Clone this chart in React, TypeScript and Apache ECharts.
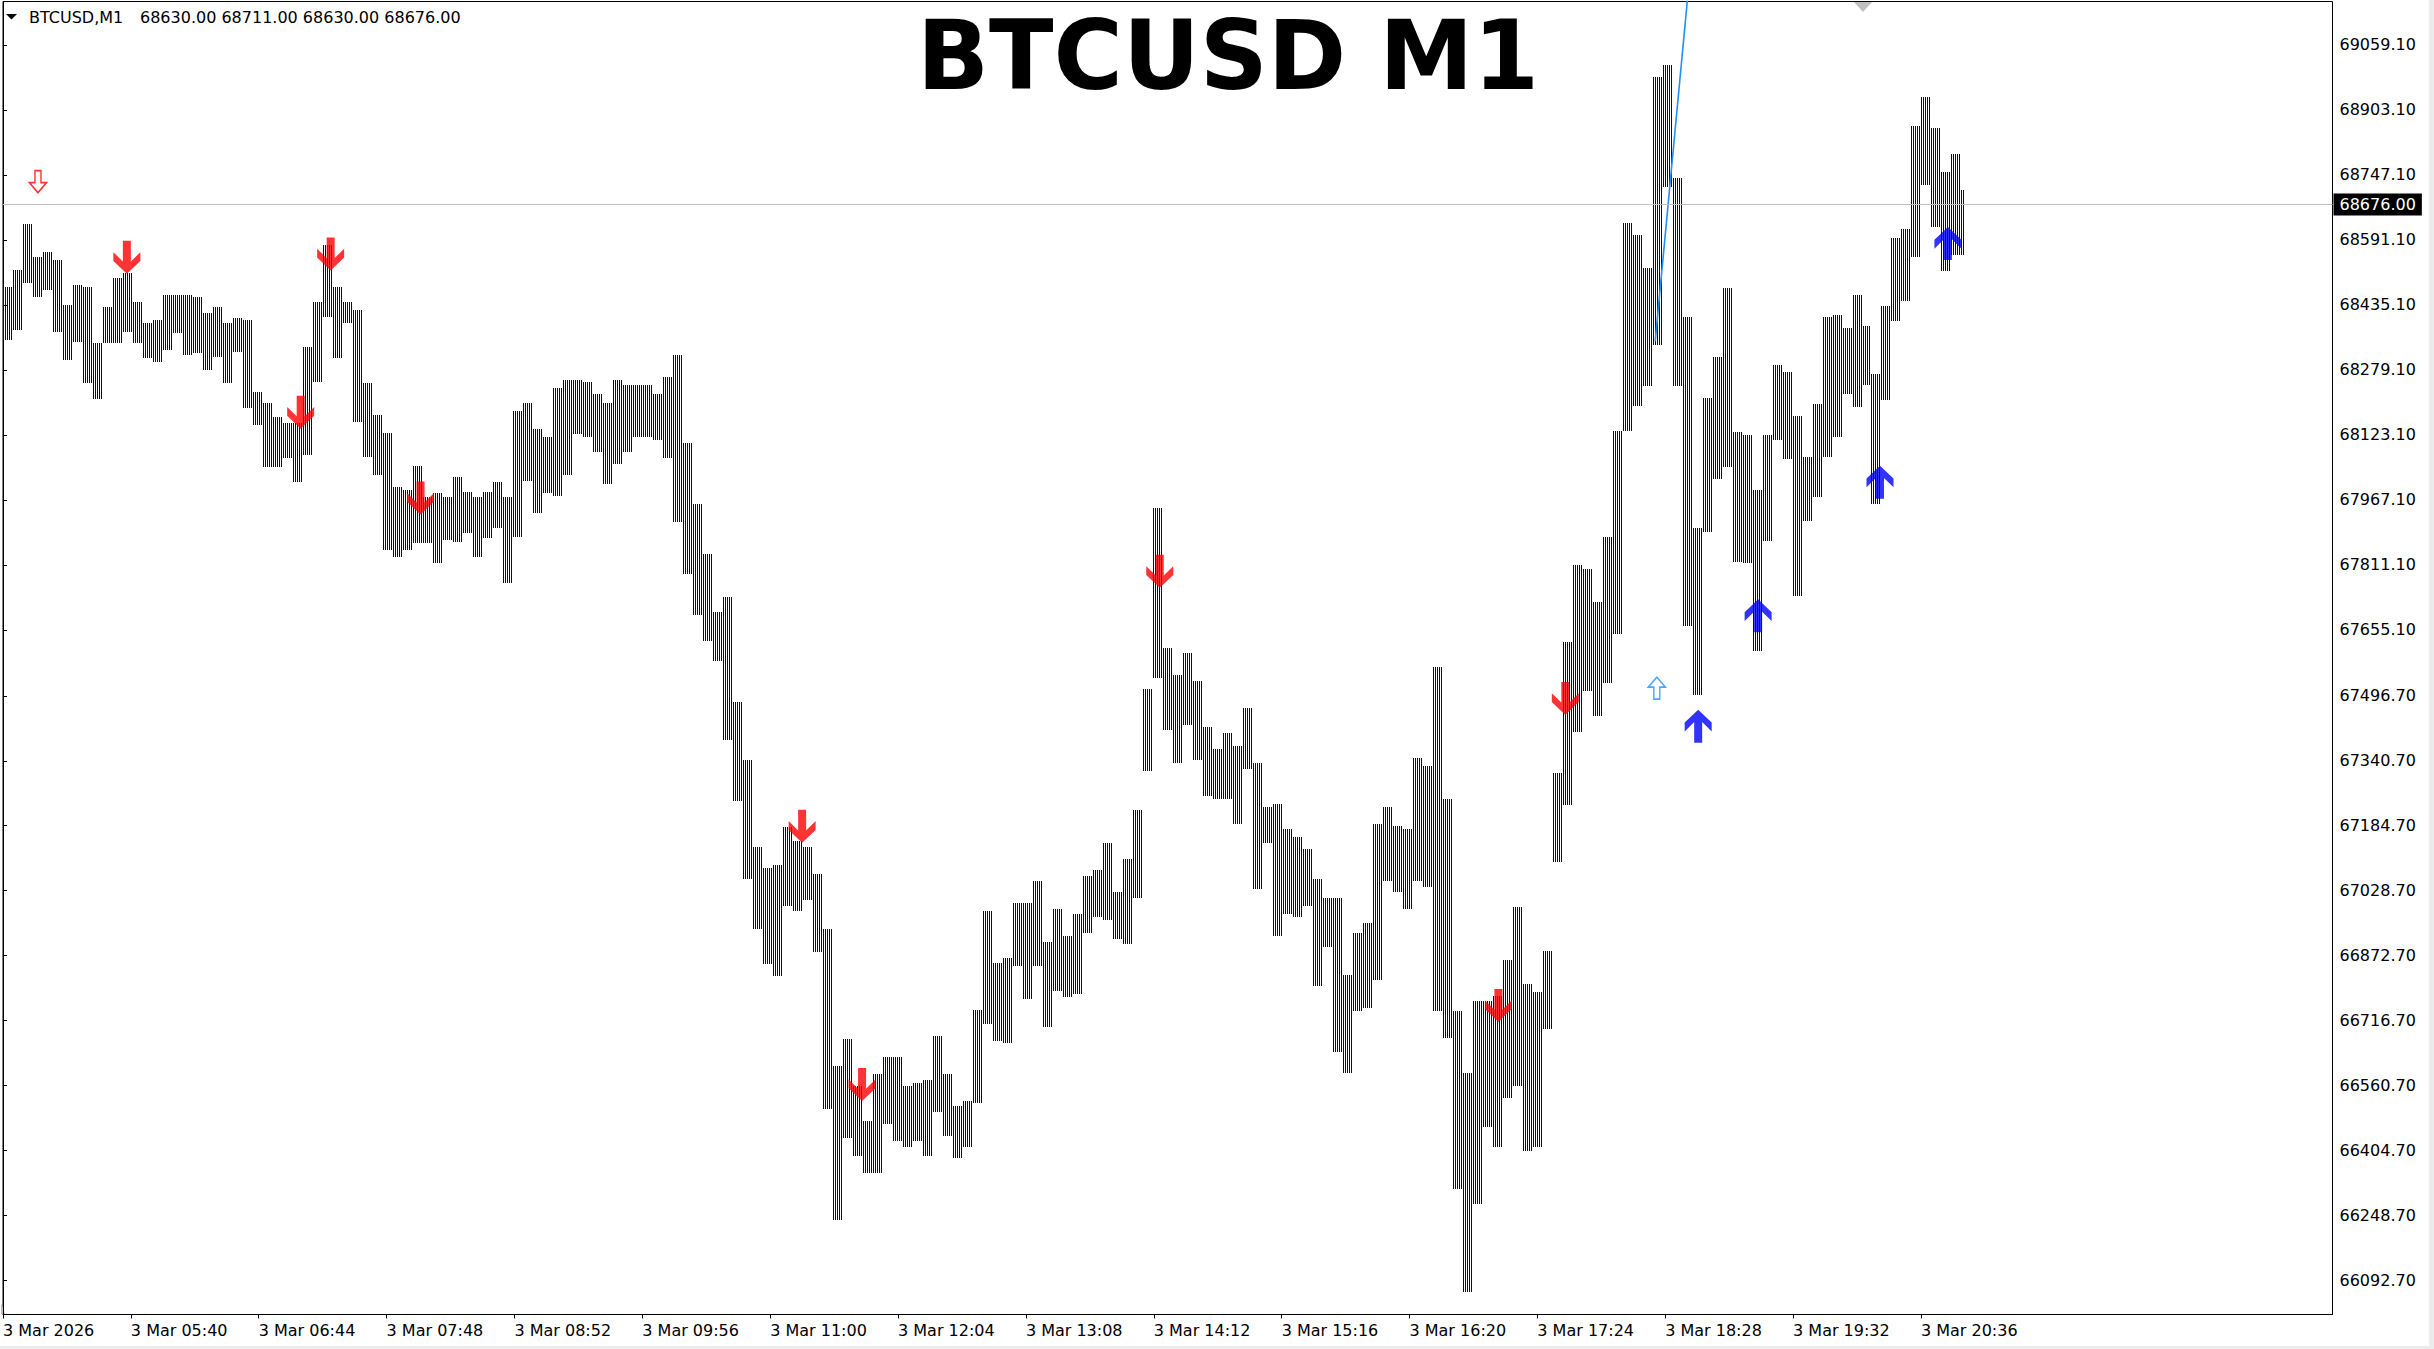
import React, { useEffect, useRef } from "react";
import * as echarts from "echarts";

// ---------- data ----------
const symbolName = "BTCUSD,M1";
const lastBarOHLC = ["68630.00", "68711.00", "68630.00", "68676.00"];
const bidPrice = 68676.0;

// x tick labels (every 64 one-minute bars, starting 04:36)
const timeLabels = [
  "3 Mar 2026", "3 Mar 05:40", "3 Mar 06:44", "3 Mar 07:48", "3 Mar 08:52", "3 Mar 09:56",
  "3 Mar 11:00", "3 Mar 12:04", "3 Mar 13:08", "3 Mar 14:12", "3 Mar 15:16", "3 Mar 16:20",
  "3 Mar 17:24", "3 Mar 18:28", "3 Mar 19:32", "3 Mar 20:36",
];
const labelMinutes = [0, 64, 128, 192, 256, 320, 384, 448, 512, 576, 640, 704, 768, 832, 896, 960];

// y tick labels
const priceTicks = [
  69059.1, 68903.1, 68747.1, 68591.1, 68435.1, 68279.1, 68123.1, 67967.1, 67811.1, 67655.1,
  67496.7, 67340.7, 67184.7, 67028.7, 66872.7, 66716.7, 66560.7, 66404.7, 66248.7, 66092.7,
];

// 5-minute groups of M1 bars (high / low)
const groupMinutes = 5;
const barCount = 982;
const highs = [
  68479, 68519, 68629, 68551, 68563, 68543, 68435, 68483, 68479, 68343,
  68431, 68499, 68511, 68443, 68391, 68399, 68459, 68459, 68459, 68455,
  68415, 68431, 68391, 68403, 68399, 68227, 68199, 68167, 68151, 68151,
  68335, 68443, 68579, 68479, 68443, 68423, 68247, 68171, 68127, 67999,
  67991, 68048, 67975, 67983, 67975, 68023, 67987, 67975, 67987, 68009,
  67973, 68180, 68200, 68138, 68117, 68235, 68256, 68256, 68249, 68221,
  68200, 68256, 68242, 68242, 68242, 68221, 68263, 68316, 68103, 67956,
  67837, 67698, 67733, 67481, 67342, 67133, 67084, 67091, 67181, 67149,
  67133, 67070, 66937, 66609, 66672, 66560, 66476, 66588, 66630, 66630,
  66560, 66567, 66574, 66679, 66588, 66511, 66525, 66742, 66979, 66854,
  66867, 66999, 66999, 67051, 66906, 66985, 66919, 66972, 67065, 67078,
  67144, 67025, 67104, 67223, 67513, 67948, 67612, 67546, 67599, 67533,
  67421, 67368, 67408, 67375, 67467, 67335, 67229, 67236, 67177, 67157,
  67130, 67058, 67012, 67012, 66827, 66926, 66952, 67190, 67229, 67183,
  67177, 67348, 67328, 67566, 67249, 66741, 66590, 66765, 66765, 66775,
  66863, 66990, 66804, 66785, 66883, 67312, 67625, 67811, 67801, 67723,
  67879, 68133, 68631, 68602, 68524, 68983, 69012, 68739, 68407, 67899,
  68211, 68309, 68475, 68130, 68122, 67990, 68122, 68291, 68275, 68169,
  68069, 68196, 68407, 68412, 68380, 68459, 68385, 68269, 68433, 68596,
  68617, 68865, 68934, 68860, 68755, 68797, 68711,
];
const lows = [
  68351, 68375, 68487, 68455, 68471, 68371, 68303, 68347, 68247, 68209,
  68343, 68343, 68371, 68343, 68307, 68299, 68327, 68367, 68315, 68319,
  68279, 68311, 68247, 68323, 68187, 68147, 68047, 68047, 68067, 68009,
  68075, 68251, 68407, 68307, 68391, 68155, 68071, 68027, 67847, 67831,
  67847, 67863, 67863, 67815, 67871, 67867, 67887, 67831, 67875, 67900,
  67768, 67879, 68012, 67935, 67984, 67977, 68026, 68124, 68117, 68082,
  68005, 68054, 68082, 68117, 68117, 68110, 68068, 67914, 67789, 67691,
  67628, 67579, 67391, 67244, 67056, 66937, 66853, 66825, 66993, 66979,
  67007, 66881, 66504, 66239, 66434, 66393, 66351, 66351, 66469, 66428,
  66414, 66428, 66393, 66497, 66441, 66386, 66414, 66518, 66708, 66669,
  66662, 66847, 66768, 66847, 66702, 66788, 66774, 66781, 66926, 66966,
  66959, 66913, 66900, 67012, 67315, 67539, 67414, 67335, 67427, 67342,
  67256, 67249, 67249, 67190, 67322, 67032, 67144, 66919, 66972, 66966,
  66992, 66801, 66893, 66642, 66590, 66741, 66748, 66814, 67051, 67025,
  66985, 67051, 67038, 66741, 66675, 66313, 66065, 66277, 66462, 66414,
  66531, 66560, 66404, 66414, 66697, 67098, 67234, 67410, 67508, 67449,
  67527, 67645, 68133, 68192, 68241, 68338, 68719, 68241, 67664, 67498,
  67889, 68016, 68045, 67818, 67816, 67605, 67869, 68111, 68064, 67737,
  67916, 67974, 68069, 68117, 68222, 68190, 68243, 67958, 68206, 68396,
  68444, 68549, 68723, 68623, 68517, 68554, 68554,
];

// signal arrows: [minute, tip price]
const sellArrows = [
  [62, 68511], [149, 68139], [164, 68519], [209, 67933], [400, 67145],
  [430, 66525], [579, 67757], [748.5, 66715], [782, 67452],
];
const buyArrows = [
  [848.5, 67462], [878.5, 67727], [939.5, 68048], [973.5, 68621],
];
const hollowSell = [[17.5, 68731]];
const hollowBuy = [[827.8, 67515]];

// trend line: [minute, price]
const trendLine = [[827, 68348], [846, 69315]];

// ---------- chart ----------
const FONT = '"DejaVu Sans", Verdana, sans-serif';
const downPath = "path://M-4,0 L4,0 L4,20 L13.5,11 L13.5,19.5 L0,32 L-13.5,19.5 L-13.5,11 L-4,20 Z";
const upPath = "path://M-4,32 L4,32 L4,12 L13.5,21 L13.5,12.5 L0,0 L-13.5,12.5 L-13.5,21 L-4,12 Z";
const hollowDownPath = "path://M-3,0 L3,0 L3,12 L8.5,12 L0,22 L-8.5,12 L-3,12 Z";
const hollowUpPath = "path://M-3,22 L3,22 L3,10 L8.5,10 L0,0 L-8.5,10 L-3,10 Z";

export default function App() {
  const ref = useRef<HTMLDivElement>(null);

  useEffect(() => {
    if (!ref.current) return;
    const chart = echarts.init(ref.current, null, { renderer: "svg" });

    const groups = highs.map((h, i) => [i, lows[i], h]);

    const option: any = {
      animation: false,
      backgroundColor: "#ffffff",
      grid: {
        left: 0.5,
        top: 1.5,
        right: 101.5,
        bottom: 34.5,
        show: true,
        borderColor: "#000",
        borderWidth: 1,
        backgroundColor: "transparent",
      },
      xAxis: {
        type: "value",
        min: 0,
        max: 1166,
        axisLine: { show: true, lineStyle: { color: "#000", width: 1 } },
        axisTick: { show: true, customValues: labelMinutes, length: 4, lineStyle: { color: "#000" } },
        axisLabel: {
          customValues: labelMinutes,
          formatter: (v: number) => {
            const i = labelMinutes.indexOf(Math.round(v));
            return i >= 0 ? timeLabels[i] : "";
          },
          align: "left",
          color: "#000",
          fontFamily: FONT,
          fontSize: 16,
          margin: 8,
        },
        splitLine: { show: false },
      },
      yAxis: {
        type: "value",
        position: "right",
        min: 66011.3,
        max: 69163.5,
        axisLine: { show: true, lineStyle: { color: "#000", width: 1 } },
        axisTick: { show: true, customValues: priceTicks, length: 4, lineStyle: { color: "#000" } },
        axisLabel: {
          customValues: priceTicks,
          formatter: (v: number) => v.toFixed(2),
          color: "#000",
          fontFamily: FONT,
          fontSize: 16,
          margin: 7,
        },
        splitLine: { show: false },
      },
      series: [
        {
          type: "custom",
          z: 3,
          silent: true,
          data: groups,
          renderItem: (params: any, api: any) => {
            const g = api.value(0);
            const lo = api.value(1);
            const hi = api.value(2);
            const children: any[] = [];
            for (let k = 0; k < groupMinutes; k++) {
              const m = g * groupMinutes + k;
              if (m >= barCount) break;
              const top = api.coord([m + 0.5, hi]);
              const bot = api.coord([m + 0.5, lo]);
              const px = 2 * Math.floor(top[0] / 2) + 1;
              const y0 = Math.round(top[1]);
              const y1 = Math.round(bot[1]);
              children.push({
                type: "rect",
                shape: { x: px, y: y0, width: 1, height: Math.max(1, y1 - y0) },
                style: { fill: "#111" },
              });
            }
            return { type: "group", children };
          },
        },
        {
          type: "line",
          z: 4,
          silent: true,
          data: trendLine,
          symbol: "none",
          clip: true,
          lineStyle: { color: "#1E90FF", width: 1.6 },
          markLine: {
            silent: true,
            symbol: "none",
            lineStyle: { color: "#C0C0C0", type: "solid", width: 1 },
            label: {
              show: true,
              position: "end",
              distance: 1,
              formatter: bidPrice.toFixed(2),
              color: "#fff",
              backgroundColor: "#000",
              padding: [3, 6, 3, 6],
              fontFamily: FONT,
              fontSize: 16,
              lineHeight: 16,
            },
            data: [{ yAxis: bidPrice }],
          },
        },
        {
          type: "scatter",
          z: 5,
          silent: true,
          data: sellArrows,
          symbol: downPath,
          symbolSize: [27, 33],
          symbolOffset: [0, -16],
          itemStyle: { color: "#FF0000" },
        },
        {
          type: "scatter",
          z: 5,
          silent: true,
          data: buyArrows,
          symbol: upPath,
          symbolSize: [27, 33],
          symbolOffset: [0, 16],
          itemStyle: { color: "#0000FF" },
        },
        {
          type: "scatter",
          z: 5,
          silent: true,
          data: hollowSell,
          symbol: hollowDownPath,
          symbolSize: [17, 22],
          itemStyle: { color: "#fff", borderColor: "#FF0000", borderWidth: 1.6 },
        },
        {
          type: "scatter",
          z: 5,
          silent: true,
          data: hollowBuy,
          symbol: hollowUpPath,
          symbolSize: [17, 22],
          itemStyle: { color: "#fff", borderColor: "#1E90FF", borderWidth: 1.6 },
        },
      ],
      graphic: [
        {
          type: "text",
          x: 1228,
          y: 55.5,
          scaleX: 0.985,
          style: {
            text: "BTCUSD M1",
            font: `bold 96px ${FONT}`,
            lineHeight: 96,
            fill: "#000",
            align: "center",
            verticalAlign: "middle",
          },
          z: 10,
        },
        {
          type: "polygon",
          shape: { points: [[6, 14], [17, 14], [11.5, 19.5]] },
          style: { fill: "#000" },
        },
        {
          type: "text",
          x: 29,
          y: 17,
          style: { text: symbolName, font: `16px ${FONT}`, fill: "#000", verticalAlign: "middle" },
        },
        {
          type: "text",
          x: 140,
          y: 17,
          style: { text: lastBarOHLC.join(" "), font: `16px ${FONT}`, fill: "#000", verticalAlign: "middle" },
        },
        {
          type: "polygon",
          shape: { points: [[1854, 2], [1872, 2], [1863, 12]] },
          style: { fill: "#C0C0C0" },
        },
        {
          type: "polygon",
          shape: { points: [[1, 1303], [1, 1314], [5, 1314]] },
          style: { fill: "#C0C0C0" },
        },
        {
          type: "rect",
          shape: { x: 0, y: 1346, width: 2434, height: 3 },
          style: { fill: "#ececec" },
        },
        {
          type: "rect",
          shape: { x: 2429, y: 0, width: 5, height: 1349 },
          style: { fill: "#ececec" },
        },
      ],
    };

    chart.setOption(option);
    return () => chart.dispose();
  }, []);

  return (
    <div
      ref={ref}
      style={{ position: "fixed", left: 0, top: 0, width: 2434, height: 1349, background: "#fff" }}
    />
  );
}
